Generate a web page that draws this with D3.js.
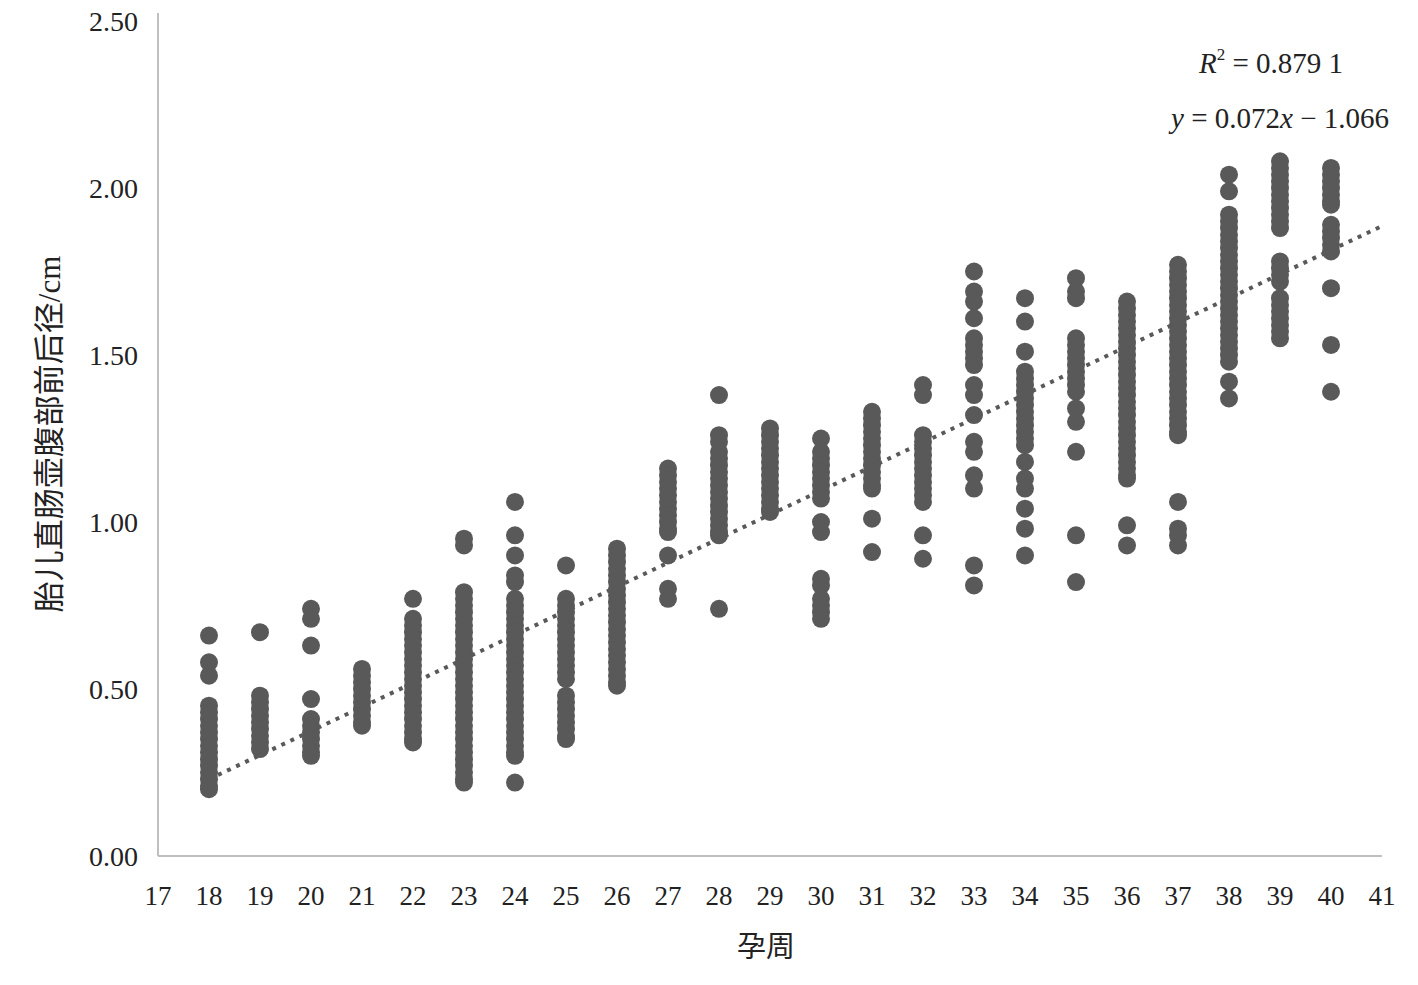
<!DOCTYPE html>
<html><head><meta charset="utf-8">
<script src="https://cdn.jsdelivr.net/npm/d3@7"></script>
<style>body{margin:0;background:#fff}svg{display:block}</style>
</head><body>
<svg id="c" width="1418" height="985"></svg>
<script>
const weeks = [18,19,20,21,22,23,24,25,26,27,28,29,30,31,32,33,34,35,36,37,38,39,40];
const w18 = [0.66,0.58,0.54,0.45,0.43,0.41,0.39,0.37,0.35,0.33,0.31,0.29,0.27,0.25,0.23,0.21,0.20];
const w19 = [0.67,0.48,0.46,0.44,0.42,0.40,0.38,0.36,0.34,0.32];
const w20 = [0.74,0.71,0.63,0.47,0.41,0.39,0.37,0.35,0.33,0.31,0.30];
const w21 = [0.56,0.54,0.52,0.50,0.48,0.46,0.44,0.42,0.40,0.39];
const w22 = [0.77,0.71,0.69,0.67,0.65,0.63,0.61,0.59,0.57,0.55,0.53,0.51,0.49,0.47,0.45,0.43,0.41,0.39,0.37,0.35,0.34];
const w23 = [0.95,0.93,0.79,0.77,0.75,0.73,0.71,0.69,0.67,0.65,0.63,0.61,0.59,0.57,0.55,0.53,0.51,0.49,0.47,0.45,0.43,0.41,0.39,0.37,0.35,0.33,0.31,0.29,0.27,0.25,0.23,0.22];
const w24 = [1.06,0.96,0.90,0.84,0.82,0.77,0.75,0.73,0.71,0.69,0.67,0.65,0.63,0.61,0.59,0.57,0.55,0.53,0.51,0.49,0.47,0.45,0.43,0.41,0.39,0.37,0.35,0.33,0.31,0.30,0.22];
const w25 = [0.87,0.77,0.75,0.73,0.71,0.69,0.67,0.65,0.63,0.61,0.59,0.57,0.55,0.53,0.48,0.46,0.44,0.42,0.40,0.38,0.36,0.35];
const w26 = [0.92,0.90,0.88,0.86,0.84,0.82,0.80,0.78,0.76,0.74,0.72,0.70,0.68,0.66,0.64,0.62,0.60,0.58,0.56,0.54,0.52,0.51];
const w27 = [1.16,1.14,1.12,1.10,1.08,1.06,1.04,1.02,1.00,0.98,0.97,0.90,0.80,0.77];
const w28 = [1.38,1.26,1.24,1.21,1.19,1.17,1.15,1.13,1.11,1.09,1.07,1.05,1.03,1.01,0.99,0.97,0.96,0.74];
const w29 = [1.28,1.26,1.24,1.22,1.20,1.18,1.16,1.14,1.12,1.10,1.08,1.06,1.04,1.03];
const w30 = [1.25,1.21,1.19,1.17,1.15,1.13,1.11,1.09,1.07,1.00,0.97,0.83,0.81,0.77,0.75,0.73,0.71];
const w31 = [1.33,1.31,1.29,1.27,1.25,1.23,1.21,1.19,1.17,1.15,1.13,1.11,1.10,1.01,0.91];
const w32 = [1.41,1.38,1.26,1.24,1.22,1.20,1.18,1.16,1.14,1.12,1.10,1.08,1.06,0.96,0.89];
const w33 = [1.75,1.69,1.66,1.61,1.55,1.53,1.51,1.49,1.47,1.41,1.38,1.32,1.24,1.21,1.14,1.10,0.87,0.81];
const w34 = [1.67,1.60,1.51,1.45,1.43,1.41,1.39,1.37,1.35,1.33,1.31,1.29,1.27,1.25,1.23,1.18,1.13,1.10,1.04,0.98,0.90];
const w35 = [1.73,1.69,1.67,1.55,1.53,1.51,1.49,1.47,1.45,1.43,1.41,1.39,1.34,1.30,1.21,0.96,0.82];
const w36 = [1.66,1.64,1.62,1.60,1.58,1.56,1.54,1.52,1.50,1.48,1.46,1.44,1.42,1.40,1.38,1.36,1.34,1.32,1.30,1.28,1.26,1.24,1.22,1.20,1.18,1.16,1.14,1.13,0.99,0.93];
const w37 = [1.77,1.75,1.73,1.71,1.69,1.67,1.65,1.63,1.61,1.59,1.57,1.55,1.53,1.51,1.49,1.47,1.45,1.43,1.41,1.39,1.37,1.35,1.33,1.31,1.29,1.27,1.26,1.06,0.98,0.96,0.93];
const w38 = [2.04,1.99,1.92,1.90,1.88,1.86,1.84,1.82,1.80,1.78,1.76,1.74,1.72,1.70,1.68,1.66,1.64,1.62,1.60,1.58,1.56,1.54,1.52,1.50,1.48,1.42,1.37];
const w39 = [2.08,2.06,2.04,2.02,2.00,1.98,1.96,1.94,1.92,1.90,1.88,1.78,1.76,1.74,1.72,1.67,1.65,1.63,1.61,1.59,1.57,1.55];
const w40 = [2.06,2.04,2.02,2.00,1.98,1.96,1.95,1.89,1.87,1.85,1.83,1.81,1.70,1.53,1.39];
const columns = [w18,w19,w20,w21,w22,w23,w24,w25,w26,w27,w28,w29,w30,w31,w32,w33,w34,w35,w36,w37,w38,w39,w40];
const xTicks = d3.range(17, 42);
const yTicks = [0, 0.5, 1.0, 1.5, 2.0, 2.5];
const slope = 0.072, intercept = -1.066;

const svg = d3.select("#c");
const x = d3.scaleLinear().domain([17, 41]).range([158, 1382]);
const y = d3.scaleLinear().domain([0, 2.5]).range([856, 21]);
const serif = "'Liberation Serif','Times New Roman','Noto Sans CJK SC',serif";

// axes lines
svg.append("line").attr("x1", x(17)).attr("x2", x(17)).attr("y1", 13).attr("y2", y(0))
  .attr("stroke", "#bfbfbf").attr("stroke-width", 2);
svg.append("line").attr("x1", x(17)).attr("x2", x(41)).attr("y1", y(0)).attr("y2", y(0))
  .attr("stroke", "#bfbfbf").attr("stroke-width", 2);

// y tick labels
svg.append("g").selectAll("text").data(yTicks).join("text")
  .attr("x", 138).attr("y", d => y(d)).attr("dy", "0.35em")
  .attr("text-anchor", "end").attr("font-family", serif).attr("font-size", 28).attr("fill", "#222")
  .text(d => d.toFixed(2));
// x tick labels
svg.append("g").selectAll("text").data(xTicks).join("text")
  .attr("x", d => x(d)).attr("y", 896).attr("dy", "0.35em")
  .attr("text-anchor", "middle").attr("font-family", serif).attr("font-size", 27).attr("fill", "#222")
  .text(d => d);

// points
const pts = [];
columns.forEach((col, i) => col.forEach(v => pts.push({w: weeks[i], v})));
svg.append("g").selectAll("circle").data(pts).join("circle")
  .attr("cx", d => x(d.w)).attr("cy", d => y(d.v)).attr("r", 9).attr("fill", "#595959");

// trend line
svg.append("line")
  .attr("x1", x(18)).attr("y1", y(slope*18+intercept))
  .attr("x2", x(41)).attr("y2", y(slope*41+intercept))
  .attr("stroke", "#595959").attr("stroke-width", 4).attr("stroke-dasharray", "4,6");

// equations
const t1 = svg.append("text").attr("x", 1271).attr("y", 73).attr("text-anchor", "middle")
  .attr("font-family", serif).attr("font-size", 29).attr("fill", "#222");
t1.append("tspan").attr("font-style", "italic").text("R");
t1.append("tspan").attr("font-size", 17).attr("dy", -13).text("2");
t1.append("tspan").attr("dy", 13).text(" = 0.879 1");
const t2 = svg.append("text").attr("x", 1280).attr("y", 128).attr("text-anchor", "middle")
  .attr("font-family", serif).attr("font-size", 29).attr("fill", "#222");
t2.append("tspan").attr("font-style", "italic").text("y");
t2.append("tspan").text(" = 0.072");
t2.append("tspan").attr("font-style", "italic").text("x");
t2.append("tspan").text(" − 1.066");

// axis titles
svg.append("text").attr("transform", "translate(60,434) rotate(-90)").attr("text-anchor", "middle")
  .attr("font-family", serif).attr("font-size", 31).attr("fill", "#222").text("胎儿直肠壶腹部前后径/cm");
svg.append("text").attr("x", 766).attr("y", 947).attr("dy", "0.35em").attr("text-anchor", "middle")
  .attr("font-family", serif).attr("font-size", 29).attr("fill", "#222").text("孕周");
</script>
</body></html>
